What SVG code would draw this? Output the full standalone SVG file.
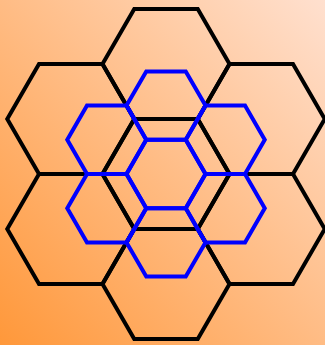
<svg xmlns="http://www.w3.org/2000/svg" xmlns:xlink="http://www.w3.org/1999/xlink" width="325" height="345" viewBox="0 0 325 345">
<defs>
<linearGradient id="bg" x1="0" y1="1" x2="1" y2="0">
<stop offset="0" stop-color="#ff983a"/>
<stop offset="1" stop-color="#ffe0cf"/>
</linearGradient>
<polygon id="bigHex" points="-63.5,0 -31.75,-55 31.75,-55 63.5,0 31.75,55 -31.75,55"/>
<polygon id="smallHex" points="-39.5,0 -19.75,-34.2 19.75,-34.2 39.5,0 19.75,34.2 -19.75,34.2"/>
<style>
.big{fill:none;stroke:#000;stroke-width:4;stroke-linejoin:miter}
.small{fill:none;stroke:#0000ff;stroke-width:4;stroke-linejoin:miter}
</style>
</defs>
<rect width="325" height="345" fill="url(#bg)"/>
<g id="black-hexagons">
<g id="b-center"><use xlink:href="#bigHex" class="big" transform="translate(166,174)"/></g>
<g id="b-top"><use xlink:href="#bigHex" class="big" transform="translate(166,64)"/></g>
<g id="b-bottom"><use xlink:href="#bigHex" class="big" transform="translate(166,284)"/></g>
<g id="b-upper-left"><use xlink:href="#bigHex" class="big" transform="translate(70.75,119)"/></g>
<g id="b-upper-right"><use xlink:href="#bigHex" class="big" transform="translate(261.25,119)"/></g>
<g id="b-lower-left"><use xlink:href="#bigHex" class="big" transform="translate(70.75,229)"/></g>
<g id="b-lower-right"><use xlink:href="#bigHex" class="big" transform="translate(261.25,229)"/></g>
</g>
<g id="blue-hexagons">
<g id="s-center"><use xlink:href="#smallHex" class="small" transform="translate(166,174)"/></g>
<g id="s-top"><use xlink:href="#smallHex" class="small" transform="translate(166,105.6)"/></g>
<g id="s-bottom"><use xlink:href="#smallHex" class="small" transform="translate(166,242.4)"/></g>
<g id="s-upper-left"><use xlink:href="#smallHex" class="small" transform="translate(106.75,139.8)"/></g>
<g id="s-upper-right"><use xlink:href="#smallHex" class="small" transform="translate(225.25,139.8)"/></g>
<g id="s-lower-left"><use xlink:href="#smallHex" class="small" transform="translate(106.75,208.2)"/></g>
<g id="s-lower-right"><use xlink:href="#smallHex" class="small" transform="translate(225.25,208.2)"/></g>
</g>
<g id="connectors"/>
</svg>
